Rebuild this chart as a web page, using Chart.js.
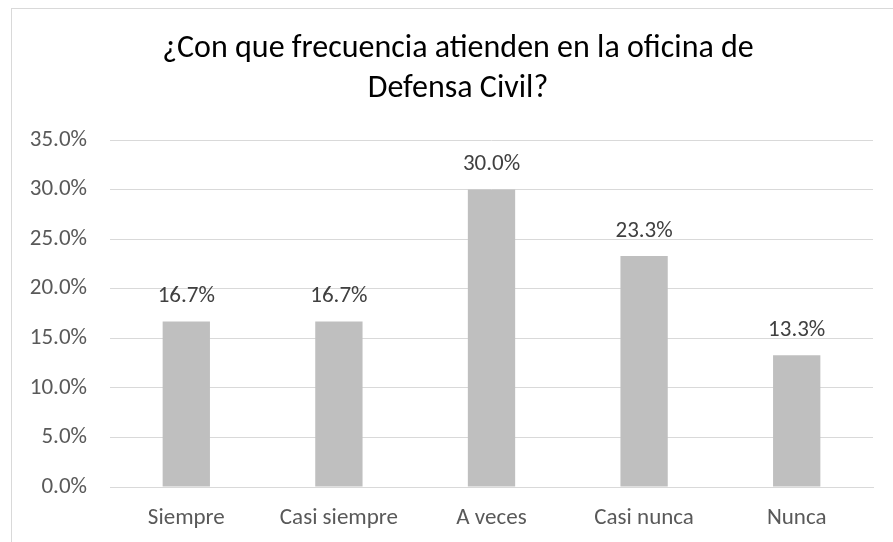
<!DOCTYPE html>
<html>
<head>
<meta charset="utf-8">
<script src="https://cdn.jsdelivr.net/npm/chart.js@4.4.1/dist/chart.umd.min.js"></script>
<style>
  body { margin: 0; background: #fff; overflow: hidden; }
  #wrap { position: relative; width: 904px; height: 542px; }
</style>
</head>
<body>
<div id="wrap"><canvas id="freqChart"></canvas></div>
<script>
const categories = ['Siempre', 'Casi siempre', 'A veces', 'Casi nunca', 'Nunca'];
const percentages = [16.7, 16.7, 30.0, 23.3, 13.3];
const chartTitle = ['¿Con que frecuencia atienden en la oficina de', 'Defensa Civil?'];

const fontFamily = 'Carlito, Calibri, Lato, "Open Sans", sans-serif';

// frame line around the chart and the centred title of the whole frame
const framePlugin = {
  id: 'frame',
  beforeDraw(chart) {
    const ctx = chart.ctx;
    ctx.save();
    ctx.strokeStyle = '#d9d9d9';
    ctx.lineWidth = 1;
    ctx.strokeRect(11.5, 8.5, chart.width, chart.height + 20);
    ctx.font = '32px ' + fontFamily;
    ctx.fillStyle = '#000000';
    ctx.textAlign = 'center';
    ctx.textBaseline = 'middle';
    chartTitle.forEach((line, i) => {
      ctx.fillText(line, 458, 49 + i * 40);
    });
    ctx.restore();
  }
};

// value labels above each bar
const valueLabels = {
  id: 'valueLabels',
  afterDatasetsDraw(chart) {
    const ctx = chart.ctx;
    const meta = chart.getDatasetMeta(0);
    ctx.save();
    ctx.font = '23px ' + fontFamily;
    ctx.fillStyle = '#404040';
    ctx.textAlign = 'center';
    ctx.textBaseline = 'middle';
    meta.data.forEach((bar, i) => {
      ctx.fillText(percentages[i].toFixed(1) + '%', bar.x, bar.y - 25);
    });
    ctx.restore();
  }
};

const ctx = document.getElementById('freqChart').getContext('2d');
new Chart(ctx, {
  type: 'bar',
  data: {
    labels: categories,
    datasets: [{
      data: percentages,
      backgroundColor: '#bfbfbf',
      categoryPercentage: 1,
      barPercentage: 0.31
    }]
  },
  options: {
    responsive: true,
    maintainAspectRatio: false,
    animation: false,
    layout: { padding: { left: 11, right: 31, top: 140, bottom: 0 } },
    plugins: {
      legend: { display: false },
      tooltip: { enabled: false },
      title: { display: false }
    },
    scales: {
      x: {
        grid: { display: false },
        border: { color: '#d9d9d9' },
        ticks: { color: '#595959', font: { family: fontFamily, size: 23 }, padding: 9 },
        afterFit(scale) { scale.height = 55; }
      },
      y: {
        min: 0,
        max: 35,
        ticks: {
          stepSize: 5,
          color: '#595959',
          font: { family: fontFamily, size: 23 },
          padding: 23,
          callback: v => v.toFixed(1) + '%'
        },
        grid: { color: '#d9d9d9', drawTicks: false },
        border: { display: false },
        afterFit(scale) { scale.width = 99; }
      }
    }
  },
  plugins: [framePlugin, valueLabels]
});
</script>
</body>
</html>
